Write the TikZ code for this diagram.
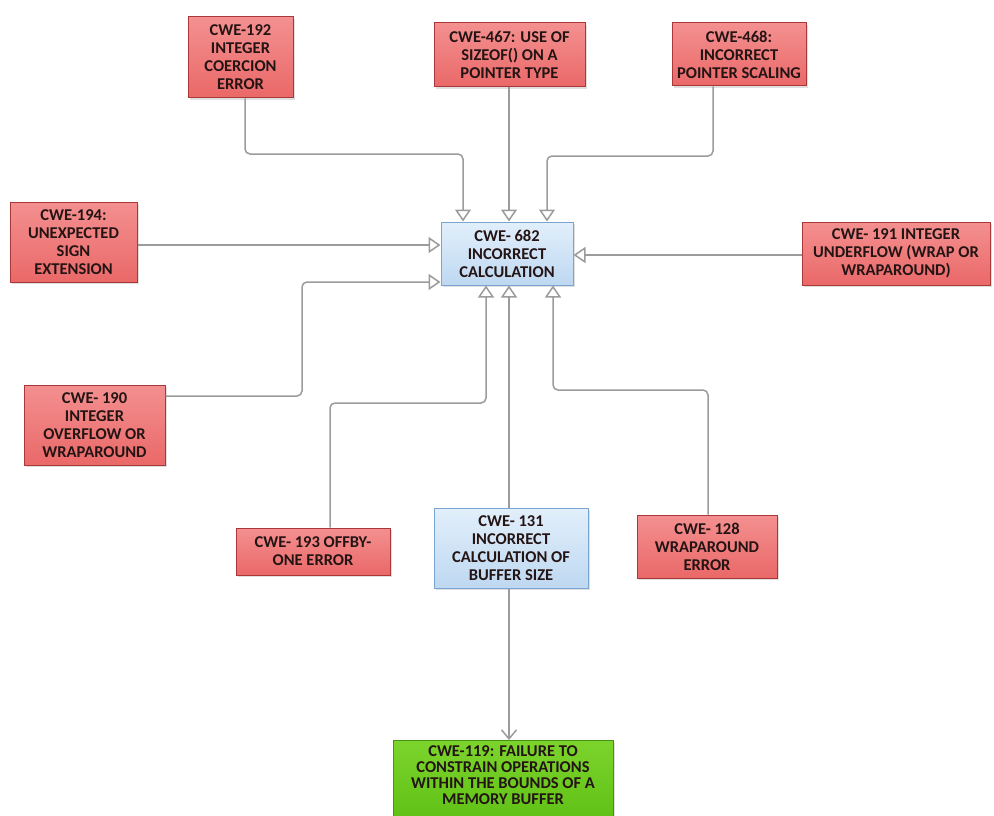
\documentclass[tikz,border=0pt]{standalone}
\usepackage{fontspec}
\setmainfont{Carlito}
\usetikzlibrary{arrows.meta,shadows}

\definecolor{redtop}{RGB}{244,144,144}
\definecolor{redbot}{RGB}{234,104,104}
\definecolor{redline}{RGB}{170,56,56}
\definecolor{bluetop}{RGB}{226,239,251}
\definecolor{bluebot}{RGB}{190,216,241}
\definecolor{blueline}{RGB}{124,164,210}
\definecolor{greentop}{RGB}{124,212,44}
\definecolor{greenbot}{RGB}{94,192,20}
\definecolor{greenline}{RGB}{70,146,20}
\definecolor{wire}{RGB}{155,155,155}
\definecolor{ink}{RGB}{36,20,20}

\tikzset{
  box/.style={rectangle, inner sep=2pt, align=center, text=ink,
    font=\fontsize{16.5}{18}\selectfont\bfseries, line width=1pt,
    drop shadow={shadow xshift=2pt, shadow yshift=-2pt, opacity=.25}},
  redbox/.style={box, draw=redline, top color=redtop, bottom color=redbot},
  bluebox/.style={box, draw=blueline, top color=bluetop, bottom color=bluebot},
  greenbox/.style={box, draw=greenline, top color=greentop, bottom color=greenbot},
  conn/.style={draw=wire, line width=1.5pt, rounded corners=5pt,
    -{Triangle[open, length=12pt, width=16pt, fill=white]}},
  feed/.style={draw=wire, line width=1.5pt,
    -{Straight Barb[length=9pt, width=15pt]}}
}

\begin{document}
\begin{tikzpicture}[x=1pt, y=-1pt]
\useasboundingbox (0,0) rectangle (994,816);

% central node and sources
\node[bluebox, minimum width=132pt, minimum height=63pt] (n682) at (507,253.5)
  {CWE- 682\\INCORRECT\\CALCULATION};

\node[redbox, minimum width=105pt, minimum height=81pt] (n192) at (240.5,57.5)
  {CWE-192\\INTEGER\\COERCION\\ERROR};
\node[redbox, minimum width=151pt, minimum height=64pt] (n467) at (509.5,55)
  {CWE-467: USE OF\\SIZEOF() ON A\\POINTER TYPE};
\node[redbox, minimum width=134pt, minimum height=63pt] (n468) at (739,54.5)
  {CWE-468:\\INCORRECT\\POINTER SCALING};
\node[redbox, minimum width=127pt, minimum height=80pt] (n194) at (73.5,242)
  {CWE-194:\\UNEXPECTED\\SIGN\\EXTENSION};
\node[redbox, minimum width=188pt, minimum height=63pt] (n191) at (896,253.5)
  {CWE- 191 INTEGER\\UNDERFLOW (WRAP OR\\WRAPAROUND)};
\node[redbox, minimum width=141pt, minimum height=80pt] (n190) at (94.5,425)
  {CWE- 190\\INTEGER\\OVERFLOW OR\\WRAPAROUND};
\node[redbox, minimum width=154pt, minimum height=47pt] (n193) at (313,551.5)
  {CWE- 193 OFFBY-\\ONE ERROR};
\node[bluebox, minimum width=154pt, minimum height=80pt] (n131) at (511,548)
  {CWE- 131\\INCORRECT\\CALCULATION OF\\BUFFER SIZE};
\node[redbox, minimum width=140pt, minimum height=63pt] (n128) at (707,546.5)
  {CWE- 128\\WRAPAROUND\\ERROR};
% the result box runs past the lower edge of the page
\node[greenbox, minimum width=220pt, inner ysep=5pt, anchor=north,
      font=\fontsize{16.5}{16}\selectfont\bfseries] (n119) at (503,740)
  {CWE-119: FAILURE TO\\CONSTRAIN OPERATIONS\\WITHIN THE BOUNDS OF A\\MEMORY BUFFER\rule[-14pt]{0pt}{1pt}};

% bend points of the elbow connectors
\coordinate (b192) at (245,154);
\coordinate (b468) at (713,156);
\coordinate (b190) at (302,396);
\coordinate (b193) at (330,403);
\coordinate (b128) at (708,390);

% connectors into CWE-682
\draw[conn] ([xshift=4.5pt]n192.south) -- (b192) -| ([xshift=-44pt]n682.north);
\draw[conn] ([xshift=-0.5pt]n467.south) -- ([xshift=2pt]n682.north);
\draw[conn] ([xshift=-26pt]n468.south) -- (b468) -| ([xshift=40pt]n682.north);
\draw[conn] ([yshift=-3pt]n194.east) -- ([yshift=8.5pt]n682.west);
\draw[conn] (n191.west |- 0,255) -- ([yshift=-1.5pt]n682.east);
\draw[conn] (n190.east |- b190) -- (b190) |- ([yshift=-28.5pt]n682.west);
\draw[conn] (n193.north -| b193) -- (b193) -| ([xshift=-21pt]n682.south);
\draw[conn] ([xshift=-2pt]n131.north) -- ([xshift=2pt]n682.south);
\draw[conn] (n128.north -| b128) -- (b128) -| ([xshift=46pt]n682.south);

% CWE-131 feeds CWE-119
\draw[feed] ([xshift=-2pt]n131.south) -- ([xshift=6pt]n119.north);
\end{tikzpicture}
\end{document}
